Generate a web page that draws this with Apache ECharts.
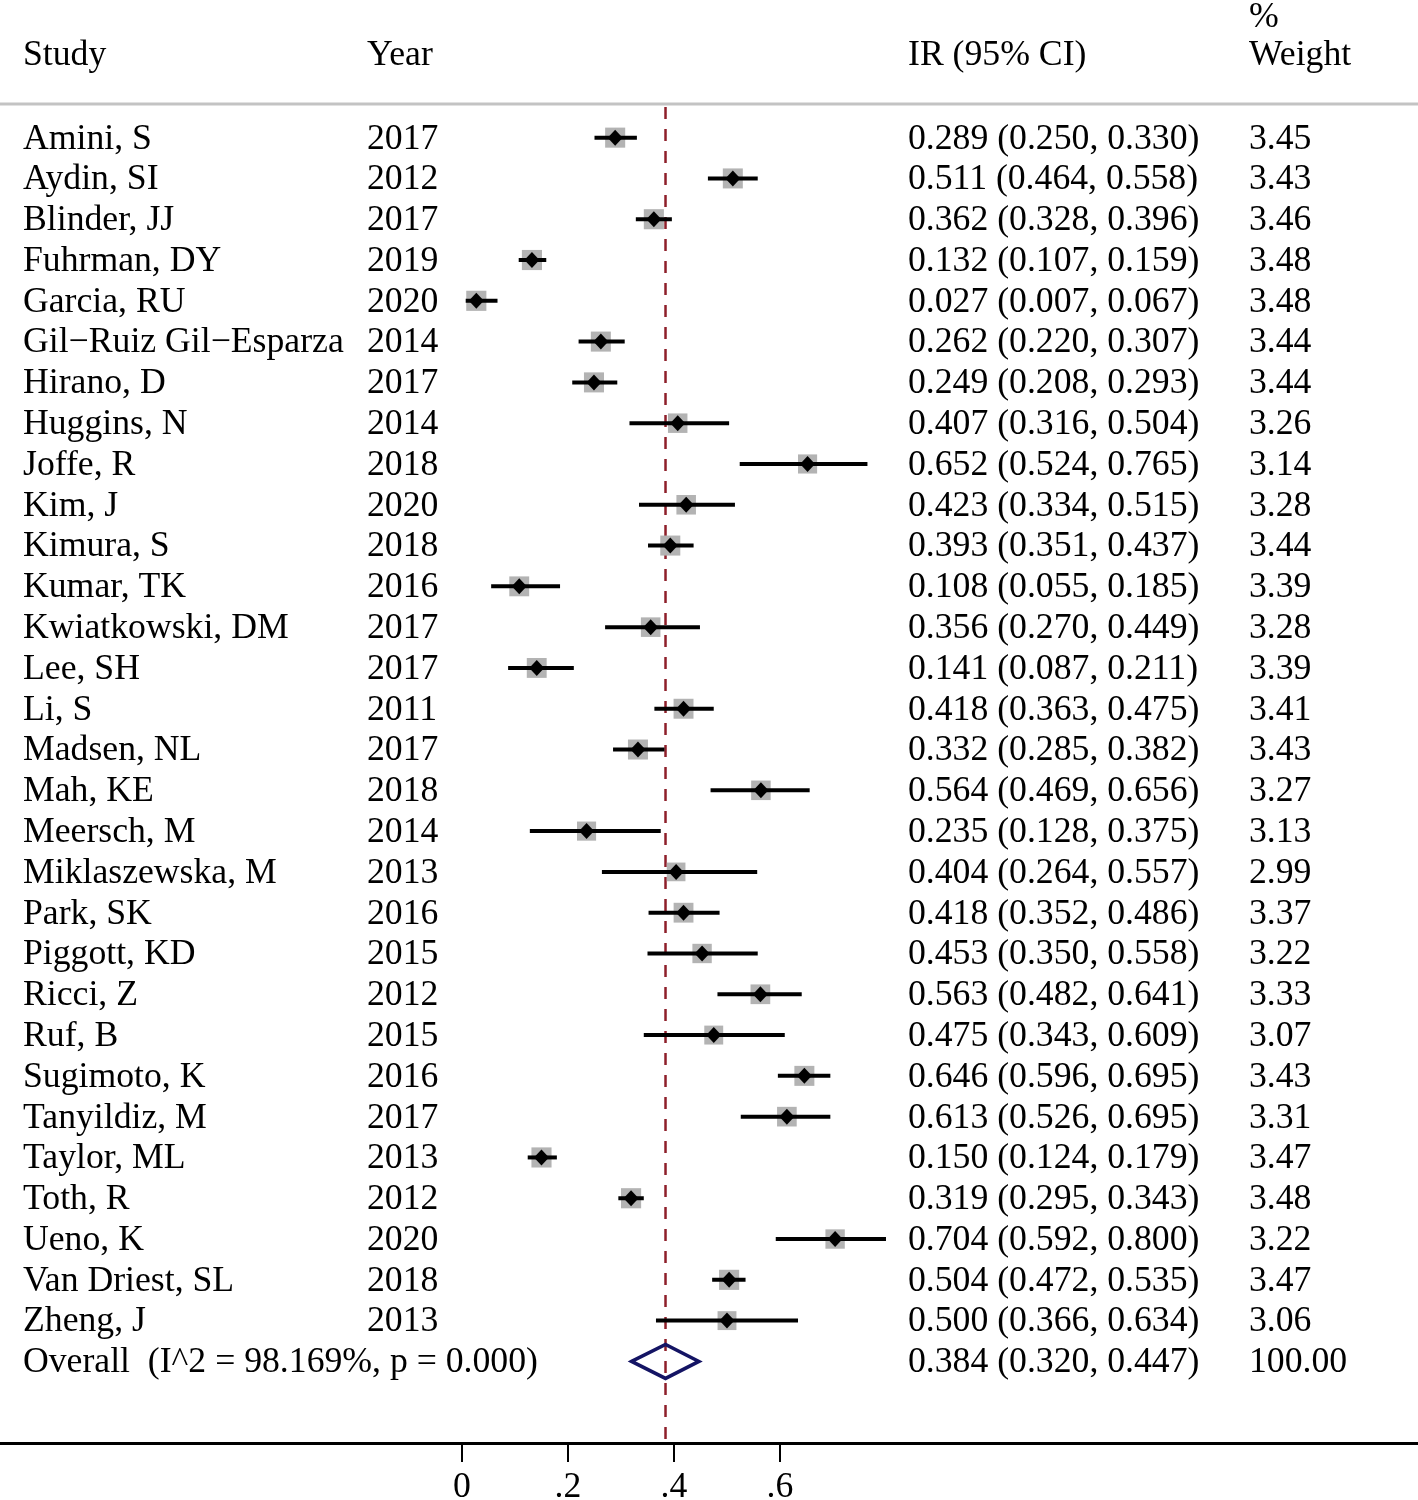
<!DOCTYPE html>
<html>
<head>
<meta charset="utf-8">
<script src="https://cdn.jsdelivr.net/npm/echarts@6/dist/echarts.min.js"></script>
<style>
html,body{margin:0;padding:0;background:#fff;}
#chart{width:1418px;height:1500px;}
</style>
</head>
<body>
<div id="chart"></div>
<script>
// ---- data ----
const studies = ["Amini, S","Aydin, SI","Blinder, JJ","Fuhrman, DY","Garcia, RU","Gil\u2212Ruiz Gil\u2212Esparza","Hirano, D","Huggins, N","Joffe, R","Kim, J","Kimura, S","Kumar, TK","Kwiatkowski, DM","Lee, SH","Li, S","Madsen, NL","Mah, KE","Meersch, M","Miklaszewska, M","Park, SK","Piggott, KD","Ricci, Z","Ruf, B","Sugimoto, K","Tanyildiz, M","Taylor, ML","Toth, R","Ueno, K","Van Driest, SL","Zheng, J"];
const years = ["2017","2012","2017","2019","2020","2014","2017","2014","2018","2020","2018","2016","2017","2017","2011","2017","2018","2014","2013","2016","2015","2012","2015","2016","2017","2013","2012","2020","2018","2013"];
const ir =    [0.289,0.511,0.362,0.132,0.027,0.262,0.249,0.407,0.652,0.423,0.393,0.108,0.356,0.141,0.418,0.332,0.564,0.235,0.404,0.418,0.453,0.563,0.475,0.646,0.613,0.150,0.319,0.704,0.504,0.500];
const lower = [0.250,0.464,0.328,0.107,0.007,0.220,0.208,0.316,0.524,0.334,0.351,0.055,0.270,0.087,0.363,0.285,0.469,0.128,0.264,0.352,0.350,0.482,0.343,0.596,0.526,0.124,0.295,0.592,0.472,0.366];
const upper = [0.330,0.558,0.396,0.159,0.067,0.307,0.293,0.504,0.765,0.515,0.437,0.185,0.449,0.211,0.475,0.382,0.656,0.375,0.557,0.486,0.558,0.641,0.609,0.695,0.695,0.179,0.343,0.800,0.535,0.634];
const weights = [3.45,3.43,3.46,3.48,3.48,3.44,3.44,3.26,3.14,3.28,3.44,3.39,3.28,3.39,3.41,3.43,3.27,3.13,2.99,3.37,3.22,3.33,3.07,3.43,3.31,3.47,3.48,3.22,3.47,3.06];
const overallLabel = "Overall  (I^2 = 98.169%, p = 0.000)";
const overallIR = 0.384, overallLower = 0.320, overallUpper = 0.447, overallWeight = 100.00;
const headers = {study:"Study", year:"Year", ci:"IR (95% CI)", pct:"%", weight:"Weight"};
const xTickValues = [0, 0.2, 0.4, 0.6];
const xTickLabels = ["0", ".2", ".4", ".6"];

// ---- layout ----
const FONT = "'Liberation Serif','Times New Roman',serif";
const FS = 35.7;
const COL = {study:23, year:367, ci:908, weight:1249};
const nRows = studies.length;

const rowData = studies.map((s,i)=>[i, s, years[i], ir[i], lower[i], upper[i], weights[i]]);
const overallRow = [nRows, overallLabel, "", overallIR, overallLower, overallUpper, overallWeight];

function fmtCI(e,l,u){return e.toFixed(3)+" ("+l.toFixed(3)+", "+u.toFixed(3)+")";}

const chart = echarts.init(document.getElementById('chart'), null, {renderer:'canvas'});

const option = {
  animation:false,
  backgroundColor:'#fff',
  grid:{left:0, right:0, top:105, bottom:57, containLabel:false, outerBoundsMode:'none'},
  xAxis:{
    type:'value', min:-0.8717, max:1.8038,
    splitLine:{show:false},
    axisLine:{show:true, onZero:false, lineStyle:{color:'#000', width:3}},
    axisTick:{show:true, customValues:xTickValues, length:19, lineStyle:{color:'#000', width:2}},
    axisLabel:{show:true, customValues:xTickValues, margin:27,
      formatter:(v)=>{const k=xTickValues.findIndex(t=>Math.abs(t-v)<1e-9);return k>=0?xTickLabels[k]:'';},
      fontFamily:FONT, fontSize:FS, color:'#000'}
  },
  yAxis:{type:'value', min:-0.8, max:32, inverse:true, show:false},
  graphic:[
    {type:'line', shape:{x1:0,y1:104,x2:1418,y2:104}, style:{stroke:'#c3c3c3', lineWidth:3}, z:1},
    {type:'text', x:COL.study, y:56, style:{text:headers.study, font:FS+'px '+FONT, fill:'#000', verticalAlign:'middle'}},
    {type:'text', x:COL.year, y:56, style:{text:headers.year, font:FS+'px '+FONT, fill:'#000', verticalAlign:'middle'}},
    {type:'text', x:COL.ci, y:56, style:{text:headers.ci, font:FS+'px '+FONT, fill:'#000', verticalAlign:'middle'}},
    {type:'text', x:COL.weight, y:18, style:{text:headers.pct, font:FS+'px '+FONT, fill:'#000', verticalAlign:'middle'}},
    {type:'text', x:COL.weight, y:56, style:{text:headers.weight, font:FS+'px '+FONT, fill:'#000', verticalAlign:'middle'}}
  ],
  series:[
    // dashed reference line at overall estimate
    {
      type:'custom', clip:false, z:2,
      data:[[overallIR]],
      renderItem:(params, api)=>{
        const p1 = api.coord([api.value(0), -0.8]);
        const p2 = api.coord([api.value(0), 32]);
        return {type:'line', shape:{x1:p1[0],y1:p1[1]+2,x2:p2[0],y2:p2[1]},
          style:{stroke:'#8e1f2a', lineWidth:2.5, lineDash:[12,10]}};
      }
    },
    // study markers
    {
      type:'custom', clip:false, z:3,
      data:rowData,
      renderItem:(params, api)=>{
        const i = api.value(0);
        const e = api.value(3), l = api.value(4), u = api.value(5), w = api.value(6);
        const pc = api.coord([e,i]), pl = api.coord([l,i]), pu = api.coord([u,i]);
        const s = 10.8*Math.sqrt(w);
        const hw = 7.5, hh = 8;
        return {type:'group', children:[
          {type:'rect', shape:{x:pc[0]-s/2, y:pc[1]-s/2, width:s, height:s}, style:{fill:'#b3b3b3'}},
          {type:'line', shape:{x1:pl[0],y1:pc[1],x2:pu[0],y2:pc[1]}, style:{stroke:'#000', lineWidth:4}},
          {type:'polygon', shape:{points:[[pc[0]-hw,pc[1]],[pc[0],pc[1]-hh],[pc[0]+hw,pc[1]],[pc[0],pc[1]+hh]]}, style:{fill:'#000'}}
        ]};
      }
    },
    // overall diamond
    {
      type:'custom', clip:false, z:3,
      data:[overallRow],
      renderItem:(params, api)=>{
        const i = api.value(0);
        const pc = api.coord([api.value(3),i]), pl = api.coord([api.value(4),i]), pu = api.coord([api.value(5),i]);
        const hh = 17;
        return {type:'polygon', shape:{points:[[pl[0],pc[1]],[pc[0],pc[1]-hh],[pu[0],pc[1]],[pc[0],pc[1]+hh]]},
          style:{fill:'none', stroke:'#141464', lineWidth:3.5, lineJoin:'miter'}};
      }
    },
    // text columns
    {
      type:'custom', clip:false, z:4,
      data:rowData.concat([overallRow]),
      renderItem:(params, api)=>{
        const idx = params.dataIndex;
        const row = idx < nRows ? rowData[idx] : overallRow;
        const y = api.coord([0,row[0]])[1] + 1.5;
        const mk = (x,t)=>({type:'text', x:x, y:y, style:{text:t, font:FS+'px '+FONT, fill:'#000', verticalAlign:'middle'}});
        return {type:'group', children:[
          mk(COL.study,row[1]),
          mk(COL.year,row[2]),
          mk(COL.ci,fmtCI(row[3],row[4],row[5])),
          mk(COL.weight,row[6].toFixed(2))
        ]};
      }
    }
  ]
};
chart.setOption(option);
</script>
</body>
</html>
